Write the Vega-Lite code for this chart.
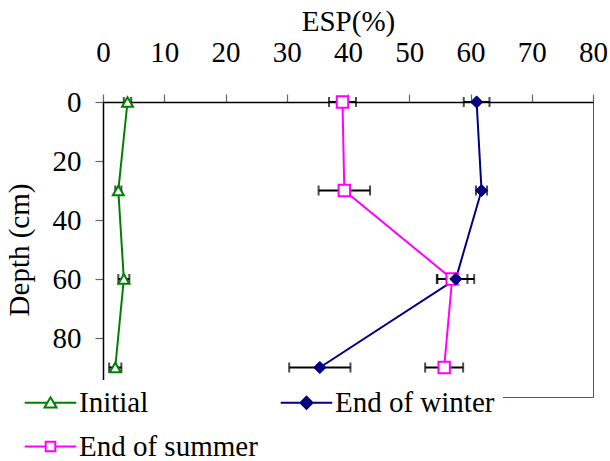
{
  "$schema": "https://vega.github.io/schema/vega-lite/v6.json",
  "width": 490,
  "height": 295,
  "autosize": {"type": "none"},
  "padding": {"left": 103, "top": 102, "right": 17, "bottom": 64},
  "background": "white",
  "config": {
    "font": "Liberation Serif",
    "view": {"stroke": "#555555", "strokeWidth": 1},
    "axis": {
      "grid": false,
      "domainColor": "black",
      "domainWidth": 1.5,
      "tickColor": "#666666",
      "tickSize": 8,
      "tickWidth": 1.2,
      "labelFont": "Liberation Serif",
      "labelFontSize": 29,
      "labelColor": "black",
      "titleFont": "Liberation Serif",
      "titleFontSize": 29,
      "titleFontWeight": "normal",
      "titleColor": "black"
    },
    "legend": {
      "title": null, "orient": "none", "direction": "horizontal", "legendX": -103, "legendY": 278, "columns": 2, "gridAlign": "all",
      "columnPadding": 6, "rowPadding": 14, "padding": 8, "fillColor": "white", "symbolOpacity": 1,
      "symbolStrokeWidth": 2, "symbolSize": 144, "symbolOffset": 28, "labelOffset": 14,
      "labelFont": "Liberation Serif", "labelFontSize": 29, "labelColor": "black", "labelLimit": 400
    }
  },
  "datasets": {
    "esp": [
      {"series": "Initial", "depth": 0, "esp": 4.0, "err": 0.6},
      {"series": "Initial", "depth": 30, "esp": 2.5, "err": 0.5},
      {"series": "Initial", "depth": 60, "esp": 3.4, "err": 0.9},
      {"series": "Initial", "depth": 90, "esp": 2.0, "err": 1.0},
      {"series": "End of winter", "depth": 0, "esp": 61.0, "err": 2.1},
      {"series": "End of winter", "depth": 30, "esp": 61.8, "err": 0.9},
      {"series": "End of winter", "depth": 60, "esp": 57.6, "err": 3.0},
      {"series": "End of winter", "depth": 90, "esp": 35.4, "err": 5.0},
      {"series": "End of summer", "depth": 0, "esp": 39.1, "err": 2.2},
      {"series": "End of summer", "depth": 30, "esp": 39.4, "err": 4.2},
      {"series": "End of summer", "depth": 60, "esp": 57.0, "err": 2.5},
      {"series": "End of summer", "depth": 90, "esp": 55.7, "err": 3.1}
    ]
  },
  "data": {"name": "esp"},
  "encoding": {
    "x": {
      "field": "esp", "type": "quantitative", "title": "ESP(%)",
      "scale": {"domain": [0, 80], "nice": false},
      "axis": {"orient": "top", "values": [0, 10, 20, 30, 40, 50, 60, 70, 80], "labelPadding": 27, "titlePadding": 2, "labelFlush": false}
    },
    "y": {
      "field": "depth", "type": "quantitative", "title": "Depth (cm)",
      "scale": {"domain": [0, 100], "reverse": true, "nice": false},
      "axis": {"values": [0, 20, 40, 60, 80], "labelPadding": 14, "titlePadding": 18, "labelFlush": false}
    }
  },
  "layer": [
    {
      "mark": {"type": "errorbar", "ticks": true, "size": 10, "thickness": 2, "color": "black"},
      "encoding": {
        "xError": {"field": "err"},
        "detail": {"field": "series"}
      }
    },
    {
      "mark": {"type": "line", "strokeWidth": 2},
      "encoding": {
        "color": {
          "field": "series", "type": "nominal",
          "scale": {"domain": ["Initial", "End of winter", "End of summer"], "range": ["#008000", "#000080", "#FF00FF"]}
        },
        "order": {"field": "depth", "type": "quantitative"}
      }
    },
    {
      "transform": [{"filter": "datum.series === 'Initial'"}],
      "mark": {"type": "point", "shape": "triangle-up", "fill": "white", "stroke": "#008000", "strokeWidth": 2, "size": 120, "opacity": 1, "fillOpacity": 1}
    },
    {
      "transform": [{"filter": "datum.series === 'End of summer'"}],
      "mark": {"type": "point", "shape": "square", "fill": "white", "stroke": "#FF00FF", "strokeWidth": 2, "size": 130, "opacity": 1, "fillOpacity": 1}
    },
    {
      "transform": [{"filter": "datum.series === 'End of winter'"}],
      "mark": {"type": "point", "shape": "diamond", "fill": "#000080", "stroke": "#000080", "strokeWidth": 1, "size": 150, "opacity": 1, "fillOpacity": 1}
    },
    {
      "mark": {"type": "point", "opacity": 0, "size": 144, "strokeWidth": 2},
      "encoding": {
        "color": {
          "field": "series", "type": "nominal",
          "scale": {"domain": ["Initial", "End of winter", "End of summer"], "range": ["#008000", "#000080", "#FF00FF"]}
        },
        "fill": {
          "field": "series", "type": "nominal",
          "scale": {"domain": ["Initial", "End of winter", "End of summer"], "range": ["white", "#000080", "white"]}
        },
        "shape": {
          "field": "series", "type": "nominal",
          "scale": {"domain": ["Initial", "End of winter", "End of summer"], "range": ["M-4.3,0H-0.5M0.5,0H4.3M0,-0.9L1,0.8L-1,0.8Z", "M-4.3,0H4.3M0,-1L1,0L0,1L-1,0Z", "M-4.3,0H-0.8M0.8,0H4.3M-0.8,-0.8H0.8V0.8H-0.8Z"]}
        }
      }
    }
  ]
}
